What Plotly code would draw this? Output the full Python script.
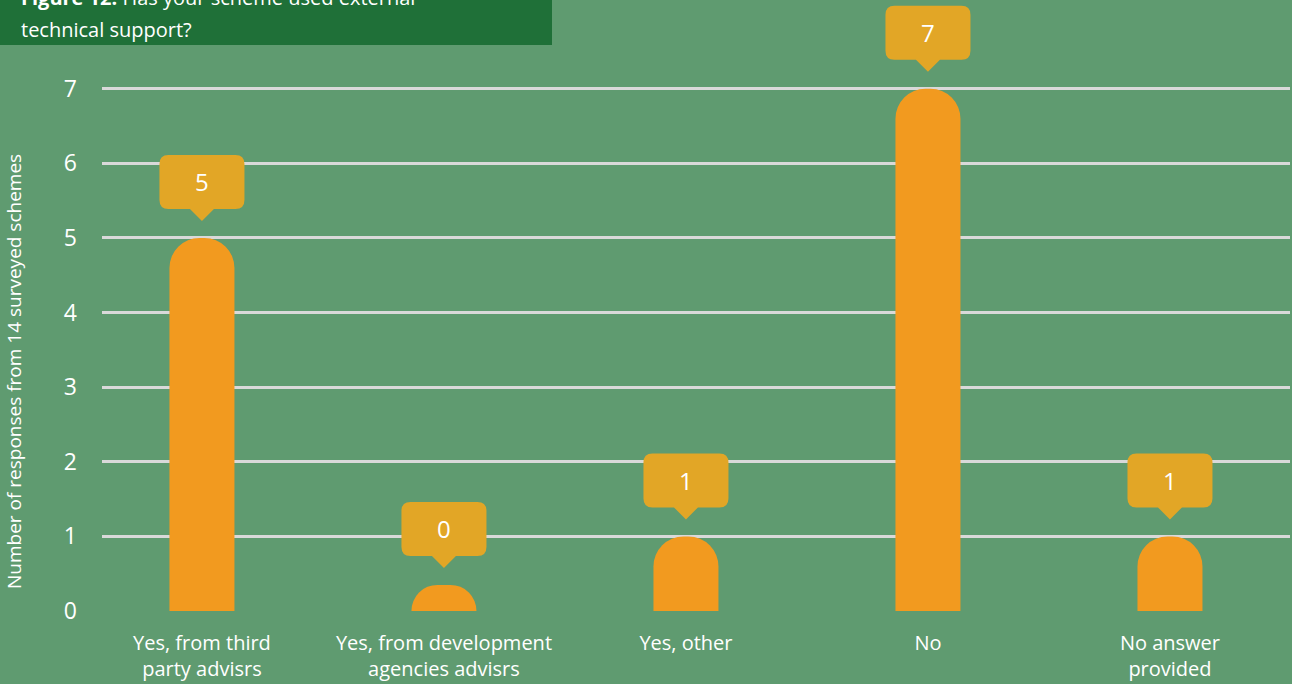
import plotly.graph_objects as go

categories = ["Yes, from third<br>party advisrs", "Yes, from development<br>agencies advisrs",
              "Yes, other", "No", "No answer<br>provided"]
values = [5, 0, 1, 7, 1]
y_ticks = [0, 1, 2, 3, 4, 5, 6, 7]
y_title = "Number of responses from 14 surveyed schemes"
title_line1 = "<b>Figure 12:</b> Has your scheme used external"
title_line2 = "technical support?"

BG = "#5F9B70"
BAR = "#F29A1F"
CALL = "#E2A626"
TITLE_BG = "#1F7038"
GRID = "#D9D9D9"
FONT = "Open Sans"

W, H = 1292, 684
ML, MR, MT, MB = 102, 2, 0, 73
plot_w = W - ML - MR
plot_h = H - MT - MB
x_range = [-0.413, 4.496]
y_range = [0, 8.19]
px_x = plot_w / (x_range[1] - x_range[0])
px_y = plot_h / (y_range[1] - y_range[0])

min_vis = 0.35  # minimum visible height for a zero bar (style)
disp = [max(v, min_vis) for v in values]
xs = list(range(len(categories)))

fig = go.Figure()
fig.add_trace(go.Bar(x=xs, y=disp, width=65 / px_x,
                     marker=dict(color=BAR, line=dict(width=0), cornerradius=30),
                     hoverinfo="skip"))

shapes = []
annotations = []
bw, bh, r, tw, th, gap = 85, 54, 9, 24, 12, 17
for x, v, d in zip(xs, values, disp):
    tip = d + gap / px_y
    B = tip + th / px_y
    T = B + bh / px_y
    L = x - bw / 2 / px_x
    R = x + bw / 2 / px_x
    rx, ry = r / px_x, r / px_y
    hx = tw / 2 / px_x
    path = (f"M {L+rx},{B} L {x-hx},{B} L {x},{tip} L {x+hx},{B} L {R-rx},{B} "
            f"Q {R},{B} {R},{B+ry} L {R},{T-ry} Q {R},{T} {R-rx},{T} "
            f"L {L+rx},{T} Q {L},{T} {L},{T-ry} L {L},{B+ry} Q {L},{B} {L+rx},{B} Z")
    shapes.append(dict(type="path", path=path, xref="x", yref="y",
                       fillcolor=CALL, line=dict(width=0), layer="above"))
    annotations.append(dict(x=x, y=(B + T) / 2, xref="x", yref="y", text=str(v),
                            showarrow=False, font=dict(family=FONT, size=24, color="white")))

# title box
shapes.append(dict(type="rect", xref="paper", yref="paper",
                   x0=-ML / plot_w, x1=(552 - ML) / plot_w,
                   y0=(plot_h - 45) / plot_h, y1=1.02,
                   fillcolor=TITLE_BG, line=dict(width=0), layer="above"))
annotations.append(dict(x=(19 - ML) / plot_w, y=(plot_h - 4) / plot_h, xref="paper", yref="paper",
                        xanchor="left", yanchor="bottom", yshift=-9, text=title_line1, showarrow=False,
                        font=dict(family=FONT, size=20, color="white")))
annotations.append(dict(x=(19 - ML) / plot_w, y=(plot_h - 34) / plot_h, xref="paper", yref="paper",
                        xanchor="left", yanchor="bottom", yshift=-11, text=title_line2, showarrow=False,
                        font=dict(family=FONT, size=20, color="white")))
# y-axis title
annotations.append(dict(x=(16 - ML) / plot_w, y=(plot_h - 372) / plot_h, xref="paper", yref="paper",
                        xanchor="center", yanchor="middle", xshift=-2,
                        text=y_title, textangle=-90, showarrow=False,
                        font=dict(family=FONT, size=19, color="white")))

fig.update_layout(
    width=W, height=H, margin=dict(l=ML, r=MR, t=MT, b=MB),
    paper_bgcolor=BG, plot_bgcolor=BG, showlegend=False,
    shapes=shapes, annotations=annotations,
    xaxis=dict(range=x_range, tickvals=xs, ticktext=categories, showgrid=False,
               zeroline=False, showline=False, ticks="", ticklabelstandoff=18,
               tickfont=dict(family=FONT, size=20, color="white"), fixedrange=True),
    yaxis=dict(range=y_range, tickvals=y_ticks, showgrid=True, gridcolor=GRID, gridwidth=2.5,
               zeroline=False, showline=False, ticks="", ticklabelstandoff=24,
               tickfont=dict(family=FONT, size=23, color="white"), fixedrange=True),
)

fig.write_html("out.html", config={"displayModeBar": False})
